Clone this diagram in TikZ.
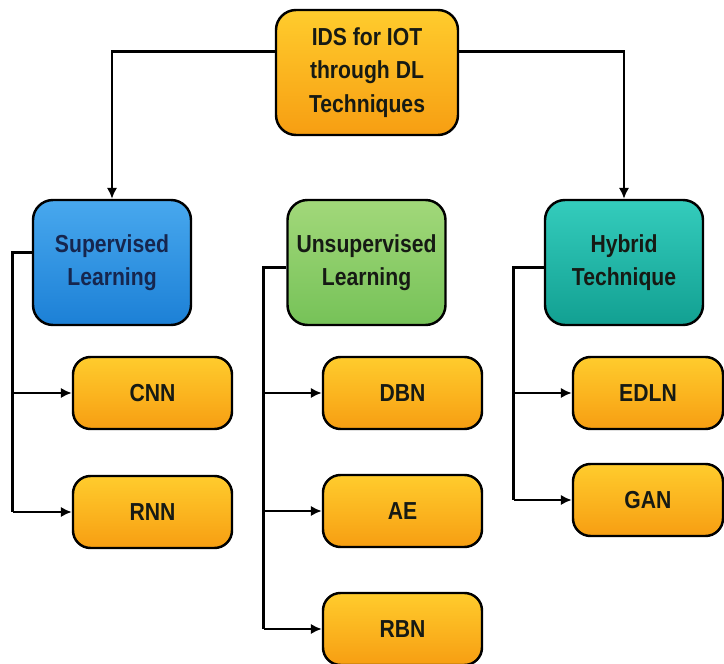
\documentclass[tikz,border=0pt]{standalone}
\usepackage{fontspec}
\setmainfont{Liberation Sans}[FakeStretch=0.86]
\usepackage{tikz}
\usepackage{xcolor}
\usetikzlibrary{shapes,arrows,arrows.meta,positioning}
\definecolor{orangetop}{RGB}{255, 204, 45}
\definecolor{orangebot}{RGB}{247, 158, 18}
\definecolor{bluetop}{RGB}{72, 168, 238}
\definecolor{bluebot}{RGB}{28, 128, 214}
\definecolor{greentop}{RGB}{162, 216, 122}
\definecolor{greenbot}{RGB}{118, 194, 88}
\definecolor{tealtop}{RGB}{52, 204, 188}
\definecolor{tealbot}{RGB}{18, 160, 146}
\definecolor{navy}{RGB}{22, 38, 78}
\definecolor{ink}{RGB}{22, 26, 20}
\tikzstyle{arrow} = [
    line width=1.6pt,
    -{Latex[length=2.2mm,width=2.1mm]},
    draw=black
]
\tikzstyle{line} = [
    line width=1.6pt,
    draw=black
]
\tikzstyle{box} = [
    rectangle,
    rounded corners=4mm,
    draw=black,
    line width=1.4pt,
    inner sep=0pt,
    align=center,
    text=ink,
    font=\bfseries\fontsize{14}{19}\selectfont
]
\tikzstyle{root} = [
    box,
    minimum width=36.4mm,
    minimum height=25mm,
    top color=orangetop,
    bottom color=orangebot
]
\tikzstyle{branch} = [
    box,
    minimum width=31.6mm,
    minimum height=25mm
]
\tikzstyle{leaf} = [
    box,
    rounded corners=3.5mm,
    minimum width=31.8mm,
    minimum height=14.4mm,
    top color=orangetop,
    bottom color=orangebot
]

\begin{document}
\begin{tikzpicture}[x=0.2mm,y=-0.2mm]
        \useasboundingbox (0,0) rectangle (724,664);

        % Root
        \node[root] (ids) at (367,72.5) {IDS for IOT\\through DL\\Techniques};

        % Categories
        \node[branch, top color=bluetop, bottom color=bluebot, text=navy] (sup) at (112,262.5) {Supervised\\Learning};
        \node[branch, top color=greentop, bottom color=greenbot] (unsup) at (366.5,262.5) {Unsupervised\\Learning};
        \node[branch, top color=tealtop, bottom color=tealbot] (hyb) at (624,262.5) {Hybrid\\Technique};

        % Methods
        \node[leaf] (cnn) at (152.5,393) {CNN};
        \node[leaf] (rnn) at (152.5,512) {RNN};
        \node[leaf] (dbn) at (402.5,393) {DBN};
        \node[leaf] (ae) at (402.5,511) {AE};
        \node[leaf] (rbn) at (402.5,629) {RBN};
        \node[leaf, minimum width=30mm] (edln) at (648,393) {EDLN};
        \node[leaf, minimum width=30mm] (gan) at (648,500) {GAN};

        % Root to categories
        \draw[arrow] ([yshift=4.2mm]ids.west) -| (sup.north);
        \draw[arrow] ([yshift=4.2mm]ids.east) -| (hyb.north);

        % Supervised
        \draw[line] ([yshift=2mm]sup.west) -| ([xshift=-11.8mm]rnn.west);
        \draw[arrow] ([xshift=-11.8mm]cnn.west) -- (cnn.west);
        \draw[arrow] ([xshift=-11.8mm]rnn.west) -- (rnn.west);

        % Unsupervised
        \draw[line] ([yshift=-1mm]unsup.west) -| ([xshift=-11.6mm]rbn.west);
        \draw[arrow] ([xshift=-11.6mm]dbn.west) -- (dbn.west);
        \draw[arrow] ([xshift=-11.6mm]ae.west) -- (ae.west);
        \draw[arrow] ([xshift=-11.6mm]rbn.west) -- (rbn.west);

        % Hybrid
        \draw[line] ([yshift=-1mm]hyb.west) -| ([xshift=-11.6mm]gan.west);
        \draw[arrow] ([xshift=-11.6mm]edln.west) -- (edln.west);
        \draw[arrow] ([xshift=-11.6mm]gan.west) -- (gan.west);
    \end{tikzpicture}
\end{document}
